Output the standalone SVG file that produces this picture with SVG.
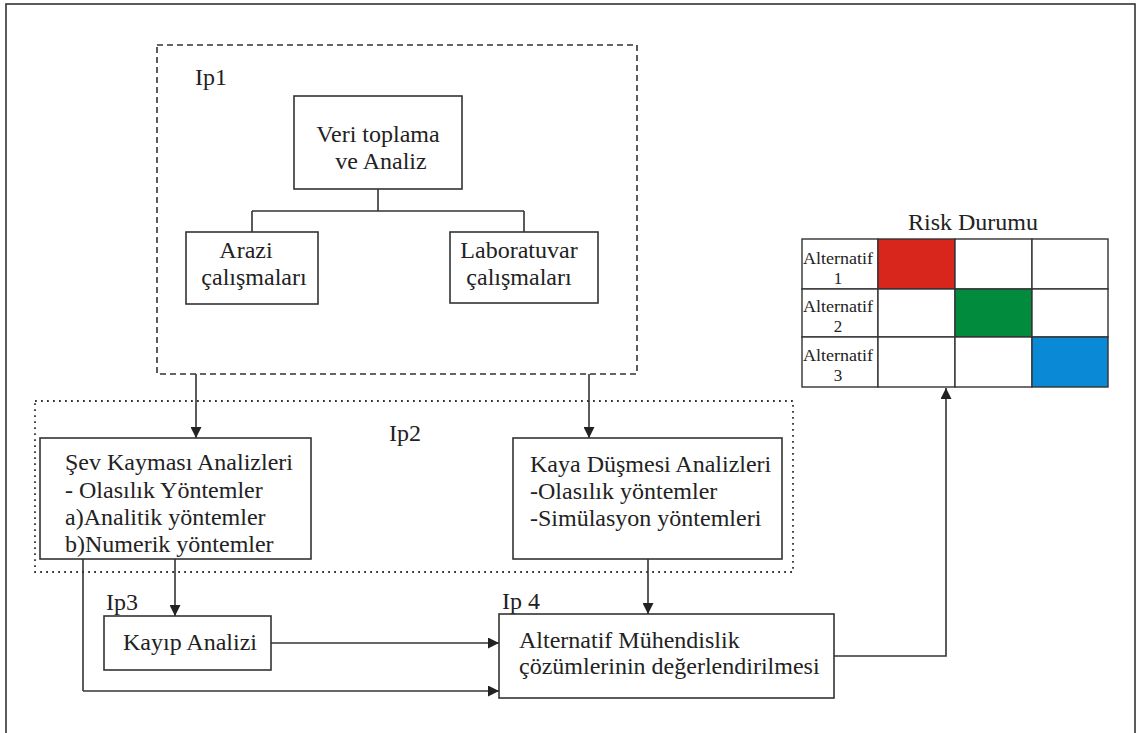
<svg xmlns="http://www.w3.org/2000/svg" width="1136" height="733" viewBox="0 0 1136 733">
<style>
text{font-family:"Liberation Serif","Times New Roman",serif;fill:#222;}
.t{font-size:24px;}
.s{font-size:17px;}
.box{fill:#fff;stroke:#333;stroke-width:1.6;}
.ln{fill:none;stroke:#333;stroke-width:1.6;}
.arr{fill:none;stroke:#333;stroke-width:1.6;marker-end:url(#ah);}
.dash{fill:none;stroke:#333;stroke-width:1.6;stroke-dasharray:6 4;}
.dot{fill:none;stroke:#333;stroke-width:1.8;stroke-dasharray:1.8 4.2;}
.cell{stroke:#333;stroke-width:1.4;}
</style>
<defs>
<marker id="ah" viewBox="0 0 10 10" refX="10" refY="5" markerWidth="11" markerHeight="11" markerUnits="userSpaceOnUse" orient="auto">
<path d="M0,0 L10,5 L0,10 Z" fill="#222"/>
</marker>
</defs>
<rect x="0" y="0" width="1136" height="733" fill="#fff"/>
<rect x="6" y="4" width="1129" height="760" fill="none" stroke="#333" stroke-width="1.6"/>

<g id="ip1">
<rect class="dash" x="157" y="45" width="480" height="329"/>
<text class="t" x="195" y="85">Ip1</text>
</g>
<g id="ip2">
<rect class="dot" x="35" y="401" width="758" height="171"/>
<text class="t" x="389" y="441">Ip2</text>
</g>

<g id="connectors">
<path class="ln" d="M378,189 V211 M252,211 H524 M252,211 V232 M524,211 V232"/>
<path class="arr" d="M196,374 V438"/>
<path class="arr" d="M589,374 V438"/>
<path class="arr" d="M175,559 V616"/>
<path class="arr" d="M648,559 V614"/>
<path class="ln" d="M83,559 V691"/>
<path class="arr" d="M83,691 H499"/>
<path class="arr" d="M271,643 H499"/>
<path class="arr" d="M834,656 H946 V388"/>
</g>

<g id="veri">
<rect class="box" x="294" y="96" width="168" height="93"/>
<text class="t" x="378" y="142" text-anchor="middle">Veri toplama</text>
<text class="t" x="381" y="169" text-anchor="middle">ve Analiz</text>
</g>
<g id="arazi">
<rect class="box" x="186" y="232" width="132" height="72"/>
<text class="t" x="246" y="258" text-anchor="middle">Arazi</text>
<text class="t" x="254" y="285" text-anchor="middle">çalışmaları</text>
</g>
<g id="lab">
<rect class="box" x="450" y="232" width="148" height="71"/>
<text class="t" x="519" y="258" text-anchor="middle">Laboratuvar</text>
<text class="t" x="519" y="285" text-anchor="middle">çalışmaları</text>
</g>
<g id="sev">
<rect class="box" x="40" y="438" width="271" height="121"/>
<text class="t" x="65" y="470">Şev Kayması Analizleri</text>
<text class="t" x="65" y="498">- Olasılık Yöntemler</text>
<text class="t" x="65" y="525">a)Analitik yöntemler</text>
<text class="t" x="65" y="552">b)Numerik yöntemler</text>
</g>
<g id="kaya">
<rect class="box" x="513" y="438" width="269" height="121"/>
<text class="t" x="530" y="472">Kaya Düşmesi Analizleri</text>
<text class="t" x="530" y="499">-Olasılık yöntemler</text>
<text class="t" x="530" y="526">-Simülasyon yöntemleri</text>
</g>
<g id="kayip">
<text class="t" x="106" y="610">Ip3</text>
<rect class="box" x="104" y="616" width="167" height="54"/>
<text class="t" x="123" y="650">Kayıp Analizi</text>
</g>
<g id="ip4">
<text class="t" x="502" y="609">Ip 4</text>
<rect class="box" x="499" y="614" width="335" height="84"/>
<text class="t" x="519" y="648">Alternatif Mühendislik</text>
<text class="t" x="519" y="674">çözümlerinin değerlendirilmesi</text>
</g>

<g id="risk">
<text class="t" x="973" y="230" text-anchor="middle">Risk Durumu</text>
<rect class="cell" x="802" y="239" width="76" height="50" fill="#fff"/>
<rect class="cell" x="878" y="239" width="77" height="50" fill="#d9261c"/>
<rect class="cell" x="955" y="239" width="77" height="50" fill="#fff"/>
<rect class="cell" x="1032" y="239" width="76" height="50" fill="#fff"/>
<rect class="cell" x="802" y="289" width="76" height="48" fill="#fff"/>
<rect class="cell" x="878" y="289" width="77" height="48" fill="#fff"/>
<rect class="cell" x="955" y="289" width="77" height="48" fill="#008c3c"/>
<rect class="cell" x="1032" y="289" width="76" height="48" fill="#fff"/>
<rect class="cell" x="802" y="337" width="76" height="50" fill="#fff"/>
<rect class="cell" x="878" y="337" width="77" height="50" fill="#fff"/>
<rect class="cell" x="955" y="337" width="77" height="50" fill="#fff"/>
<rect class="cell" x="1032" y="337" width="76" height="50" fill="#0a8ad6"/>
<text class="s" x="803" y="264" textLength="70" lengthAdjust="spacingAndGlyphs">Alternatif</text>
<text class="s" x="838" y="284" text-anchor="middle">1</text>
<text class="s" x="803" y="312" textLength="70" lengthAdjust="spacingAndGlyphs">Alternatif</text>
<text class="s" x="838" y="332" text-anchor="middle">2</text>
<text class="s" x="803" y="361" textLength="70" lengthAdjust="spacingAndGlyphs">Alternatif</text>
<text class="s" x="838" y="381" text-anchor="middle">3</text>
</g>
</svg>
